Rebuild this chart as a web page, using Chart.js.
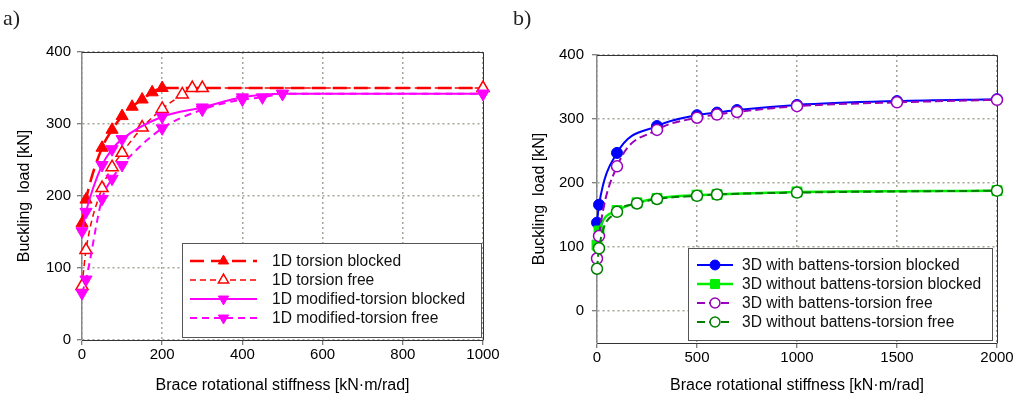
<!DOCTYPE html>
<html>
<head>
<meta charset="utf-8">
<script src="https://cdn.jsdelivr.net/npm/chart.js@4.4.0/dist/chart.umd.min.js"></script>
<style>
html,body{margin:0;padding:0;background:#fff;}
#wrap{position:relative;width:1020px;height:407px;overflow:hidden;}
canvas{position:absolute;top:0;}
#cA{left:0}
#cB{left:510px}
.tag{position:absolute;top:5px;font:22px 'Liberation Serif','DejaVu Serif',serif;color:#222;}
</style>
</head>
<body>
<div id="wrap">
  <canvas id="cA" width="510" height="407"></canvas>
  <canvas id="cB" width="510" height="407"></canvas>
  <div class="tag" style="left:3px">a)</div>
  <div class="tag" style="left:513px">b)</div>
</div>
<script>
/* ---- data, panel a ---- */
const aLabels = ['1D torsion blocked','1D torsion free','1D modified-torsion blocked','1D modified-torsion free'];
const aTorBlockedX = [0,10,50,75,100,125,150,175,200,1000];
const aTorBlockedY = [162,195,267,292,311,324,334,344,350,350];
const aTorFreeX = [0,10,50,75,100,150,200,250,275,300,1000];
const aTorFreeY = [75,125,211,240,260,295,321,341,350,350,350];
const aModBlockedX = [0,10,50,75,100,200,300,400,500,1000];
const aModBlockedY = [151,178,243,265,279,310,323,337,342,342];
const aModFreeX = [0,10,50,75,100,200,300,400,450,500,1000];
const aModFreeY = [65,84,196,224,243,294,320,334,337,342,342];
const aXTicks = [0,200,400,600,800,1000];

/* ---- data, panel b ---- */
const bLabels = ['3D with battens-torsion blocked','3D without battens-torsion blocked','3D with battens-torsion free','3D without battens-torsion free'];
const bWithBlockedX = [0,10,100,300,500,600,700,1000,1500,2000];
const bWithBlockedY = [138,166,247,289,306,310,314,322,328,331];
const bWithoutBlockedX = [0,10,100,200,300,500,600,1000,2000];
const bWithoutBlockedY = [103,125,157,169,176,181,182,186,188];
const bWithFreeX = [0,10,100,300,500,600,700,1000,1500,2000];
const bWithFreeY = [82,117,226,283,302,307,311,320,326,330];
const bWithoutFreeX = [0,10,100,200,300,500,600,1000,2000];
const bWithoutFreeY = [66,98,155,168,175,180,182,185,188];
const bXTicks = [0,500,1000,1500,2000];

const yTicks = [0,100,200,300,400];

const FONT = "'Liberation Sans', Arial, sans-serif";
const pts = (xs, ys) => xs.map((x,i)=>({x:x, y:ys[i]}));

/* frame: top and right edges of the plot box */
const framePlugin = {
  id:'frame',
  beforeDatasetsDraw(chart){
    const {ctx, chartArea:a} = chart;
    ctx.save();
    ctx.strokeStyle = '#333'; ctx.lineWidth = 1;
    ctx.beginPath();
    ctx.moveTo(a.left, a.top+0.5); ctx.lineTo(a.right+0.5, a.top+0.5); ctx.lineTo(a.right+0.5, a.bottom);
    ctx.stroke();
    ctx.restore();
  }
};

function marker(ctx, style, rot, r, x, y){
  ctx.beginPath();
  if(style==='circle'){ ctx.arc(x,y,r,0,Math.PI*2); }
  else if(style==='rect'){ const s=r*Math.SQRT1_2; ctx.rect(x-s,y-s,2*s,2*s); }
  else {
    let rad = rot*Math.PI/180;
    ctx.moveTo(x+Math.sin(rad)*r, y-Math.cos(rad)*r);
    rad += 2*Math.PI/3; ctx.lineTo(x+Math.sin(rad)*r, y-Math.cos(rad)*r);
    rad += 2*Math.PI/3; ctx.lineTo(x+Math.sin(rad)*r, y-Math.cos(rad)*r);
    ctx.closePath();
  }
  ctx.fill(); ctx.stroke();
}

/* boxed legend inside the plot */
const boxLegend = {
  id:'boxLegend',
  afterDatasetsDraw(chart, args, o){
    const ctx = chart.ctx;
    ctx.save();
    ctx.fillStyle = '#fff'; ctx.strokeStyle = '#555'; ctx.lineWidth = 1;
    ctx.fillRect(o.x, o.y, o.w, o.h);
    ctx.strokeRect(o.x+0.5, o.y+0.5, o.w, o.h);
    chart.data.datasets.forEach((ds,i)=>{
      const y = o.y0 + i*o.rowH;
      ctx.setLineDash(ds.borderDash || []);
      ctx.strokeStyle = ds.borderColor; ctx.lineWidth = ds.borderWidth;
      ctx.beginPath(); ctx.moveTo(o.l0, y); ctx.lineTo(o.l1, y); ctx.stroke();
      ctx.setLineDash([]);
      ctx.fillStyle = ds.pointBackgroundColor; ctx.strokeStyle = ds.pointBorderColor; ctx.lineWidth = ds.pointBorderWidth;
      marker(ctx, ds.pointStyle, ds.pointRotation||0, ds.pointRadius*o.scale, (o.l0+o.l1)/2, y);
      ctx.fillStyle = '#111'; ctx.font = o.font + 'px ' + FONT; ctx.textBaseline = 'middle';
      ctx.fillText(ds.label, o.tx, y+1);
    });
    ctx.restore();
  }
};

function makeChart(id, datasets, cfg){
  return new Chart(document.getElementById(id), {
    type:'line',
    data:{datasets:datasets},
    plugins:[framePlugin, boxLegend],
    options:{
      responsive:false, animation:false, devicePixelRatio:1,
      layout:{padding:{left:0, right:cfg.padR, top:cfg.padT, bottom:0}},
      elements:{line:{cubicInterpolationMode:'monotone', fill:false}},
      datasets:{line:{clip:false}},
      plugins:{legend:{display:false}, tooltip:{enabled:false}, boxLegend:cfg.legend},
      scales:{
        x:{
          type:'linear', min:0, max:cfg.xMax,
          afterBuildTicks:s=>{ s.ticks = cfg.xTicks.map(v=>({value:v})); },
          afterFit:s=>{ s.height = cfg.xH; },
          grid:{color:'#a5a59c', lineWidth:1.5, tickLength:5, tickColor:'#555', tickWidth:1},
          border:{color:'#333', width:1, dash:[2,3]},
          ticks:{color:'#000', font:{size:15, family:FONT}, padding:1, maxRotation:0, callback:v=>String(v)},
          title:{display:true, text:'Brace rotational stiffness [kN·m/rad]', color:'#000', font:{size:16, family:FONT}, padding:{top:0, bottom:12}}
        },
        y:{
          type:'linear', min:cfg.yMin, max:400,
          afterBuildTicks:s=>{ s.ticks = yTicks.map(v=>({value:v})); },
          afterFit:s=>{ s.width = cfg.yW; },
          grid:{color:'#a5a59c', lineWidth:1.5, tickLength:5, tickColor:'#555', tickWidth:1},
          border:{color:'#888', width:1.5, dash:[2,3]},
          ticks:{color:'#000', font:{size:15, family:FONT}, padding:cfg.yPad, callback:v=>String(v)},
          title:{display:true, text:'Buckling  load [kN]', color:'#000', font:{size:16, family:FONT}, padding:{top:cfg.yTitlePad, bottom:0}}
        }
      }
    }
  });
}

makeChart('cA', [
  {label:aLabels[0], data:pts(aTorBlockedX,aTorBlockedY), order:4, borderColor:'#ff0000', borderWidth:2.5, borderDash:[14,7],
   pointStyle:'triangle', pointRadius:7, pointBackgroundColor:'#ff0000', pointBorderColor:'#ff0000', pointBorderWidth:1},
  {label:aLabels[1], data:pts(aTorFreeX,aTorFreeY), order:3, borderColor:'#ff0000', borderWidth:1.5, borderDash:[6,4],
   pointStyle:'triangle', pointRadius:7, pointBackgroundColor:'#ffffff', pointBorderColor:'#ff0000', pointBorderWidth:1.5},
  {label:aLabels[2], data:pts(aModBlockedX,aModBlockedY), order:2, borderColor:'#ff00ff', borderWidth:2, borderDash:[],
   pointStyle:'triangle', pointRotation:180, pointRadius:7, pointBackgroundColor:'#ff00ff', pointBorderColor:'#ff00ff', pointBorderWidth:1},
  {label:aLabels[3], data:pts(aModFreeX,aModFreeY), order:1, borderColor:'#ff00ff', borderWidth:2, borderDash:[7,5],
   pointStyle:'triangle', pointRotation:180, pointRadius:7, pointBackgroundColor:'#ff00ff', pointBorderColor:'#ff00ff', pointBorderWidth:1}
], {
  xMax:1000, xTicks:aXTicks, yMin:0, padR:27, padT:52, xH:67, yW:82, yPad:6, yTitlePad:15,
  legend:{x:182, y:243, w:299, h:94, y0:261, rowH:19, l0:190, l1:257, tx:272, font:15.6, scale:0.85}
});

makeChart('cB', [
  {label:bLabels[0], data:pts(bWithBlockedX,bWithBlockedY), order:4, borderColor:'#0000ff', borderWidth:2, borderDash:[],
   pointStyle:'circle', pointRadius:5.5, pointBackgroundColor:'#0000ff', pointBorderColor:'#0000ff', pointBorderWidth:1},
  {label:bLabels[1], data:pts(bWithoutBlockedX,bWithoutBlockedY), order:3, borderColor:'#00ee00', borderWidth:2.5, borderDash:[],
   pointStyle:'rect', pointRadius:7, pointBackgroundColor:'#00ee00', pointBorderColor:'#00ee00', pointBorderWidth:1},
  {label:bLabels[2], data:pts(bWithFreeX,bWithFreeY), order:2, borderColor:'#9900bb', borderWidth:2, borderDash:[8,4],
   pointStyle:'circle', pointRadius:5.5, pointBackgroundColor:'#ffffff', pointBorderColor:'#9900bb', pointBorderWidth:1.5},
  {label:bLabels[3], data:pts(bWithoutFreeX,bWithoutFreeY), order:1, borderColor:'#008000', borderWidth:2, borderDash:[8,4],
   pointStyle:'circle', pointRadius:5.5, pointBackgroundColor:'#ffffff', pointBorderColor:'#008000', pointBorderWidth:1.5}
], {
  xMax:2000, xTicks:bXTicks, yMin:-50, padR:23, padT:55, xH:64, yW:87, yPad:8, yTitlePad:20,
  legend:{x:178, y:248, w:304, h:92, y0:265, rowH:19, l0:187, l1:223, tx:232, font:15.6, scale:0.9}
});
</script>
</body>
</html>
